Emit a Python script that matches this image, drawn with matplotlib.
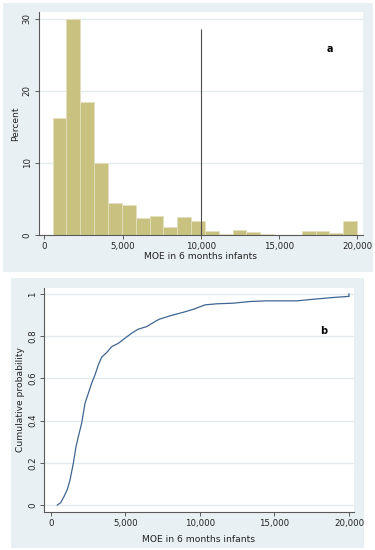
import numpy as np
import matplotlib.pyplot as plt
from matplotlib.patches import Rectangle
from matplotlib.ticker import FuncFormatter

# histogram (panel a): percent per bin
bin_start = 530
bin_width = 885
pct = [16.2, 30.0, 18.4, 10.0, 4.4, 4.1, 2.3, 2.7, 1.1, 2.5, 1.95,
       0.55, 0.15, 0.7, 0.37, 0.18, 0.0, 0.0, 0.55, 0.55, 0.32, 1.95]
cutoff = 10000
cutoff_top = 28.6

# cumulative distribution (panel b)
cdf_x = [423, 650, 872, 1096, 1275, 1498, 1678, 1834, 2058, 2282, 2506,
         2729, 2953, 3177, 3400, 3736, 4072, 4519, 4966, 5414, 5861, 6420,
         6980, 7270, 7987, 8881, 9553, 10336, 11119, 12237, 13356, 14474,
         16487, 17830, 18949, 19956, 20000, 20000]
cdf_y = [0.0, 0.011, 0.04, 0.074, 0.118, 0.197, 0.276, 0.324, 0.387, 0.482,
         0.529, 0.577, 0.616, 0.664, 0.700, 0.722, 0.750, 0.766, 0.790, 0.814,
         0.833, 0.845, 0.869, 0.880, 0.896, 0.913, 0.927, 0.948, 0.953, 0.956,
         0.964, 0.967, 0.967, 0.976, 0.983, 0.988, 0.988, 1.0]

xticks = [0, 5000, 10000, 15000, 20000]
xlabel = 'MOE in 6 months infants'

bg = '#e9f0f3'
grid_c = '#e3ecef'
axis_c = '#5a5a5a'
bar_c = '#c9c180'
line_c = '#3f6591'

fig = plt.figure(figsize=(3.75, 5.5), dpi=100)
fig.patches.append(Rectangle((0.008, 0.5055), 0.987, 0.489, transform=fig.transFigure,
                             facecolor=bg, edgecolor='none', zorder=-10))
fig.patches.append(Rectangle((0.0293, 0.0036), 0.941, 0.491, transform=fig.transFigure,
                             facecolor=bg, edgecolor='none', zorder=-10))

comma = FuncFormatter(lambda v, p: f'{int(v):,}')


def style(ax):
    ax.set_facecolor('white')
    for s in ['top', 'right']:
        ax.spines[s].set_visible(False)
    for s in ['left', 'bottom']:
        ax.spines[s].set_color(axis_c)
        ax.spines[s].set_linewidth(0.8)
    ax.tick_params(colors=axis_c, labelcolor='#222222', length=3, width=0.7,
                   labelsize=6.2, pad=2)
    ax.set_xticks(xticks)
    ax.xaxis.set_major_formatter(comma)
    for lab in ax.get_yticklabels():
        lab.set_rotation(90)
        lab.set_va('center')
    ax.grid(axis='y', color=grid_c, linewidth=1.0)
    ax.set_axisbelow(True)
    ax.set_xlabel(xlabel, fontsize=6.6, color='#222222', labelpad=1)


# panel a
ax1 = fig.add_axes([0.1027, 0.5727, 0.865, 0.4055])
edges = bin_start + bin_width * np.arange(len(pct) + 1)
ax1.bar(edges[:-1], pct, width=bin_width, align='edge', color=bar_c,
        edgecolor='#e4e0bf', linewidth=0.6, zorder=2)
ax1.vlines(cutoff, 0, cutoff_top, color='#4d4d4d', linewidth=0.8, zorder=3)
ax1.set_xlim(-370, 20365)
ax1.set_ylim(0, 30.93)
ax1.set_yticks([0, 10, 20, 30])
style(ax1)
ax1.set_ylabel('Percent', fontsize=6.6, color='#222222', labelpad=1.5)
ax1.text(18256, 25.75, 'a', fontsize=7, fontweight='bold', ha='center', va='center')

# panel b
ax2 = fig.add_axes([0.1173, 0.0691, 0.8267, 0.4073])
ax2.plot(cdf_x, cdf_y, color=line_c, linewidth=0.9, zorder=3)
ax2.set_xlim(-470, 20336)
ax2.set_ylim(-0.033, 1.028)
ax2.set_yticks([0, 0.2, 0.4, 0.6, 0.8, 1.0])
ax2.set_yticklabels(['0', '0.2', '0.4', '0.6', '0.8', '1'])
style(ax2)
ax2.set_xlabel(xlabel, fontsize=6.6, color='#222222', labelpad=5)
ax2.set_ylabel('Cumulative probability', fontsize=6.6, color='#222222', labelpad=2.5)
ax2.text(18300, 0.826, 'b', fontsize=7, fontweight='bold', ha='center', va='center')

fig.savefig('out.png', dpi=100)
